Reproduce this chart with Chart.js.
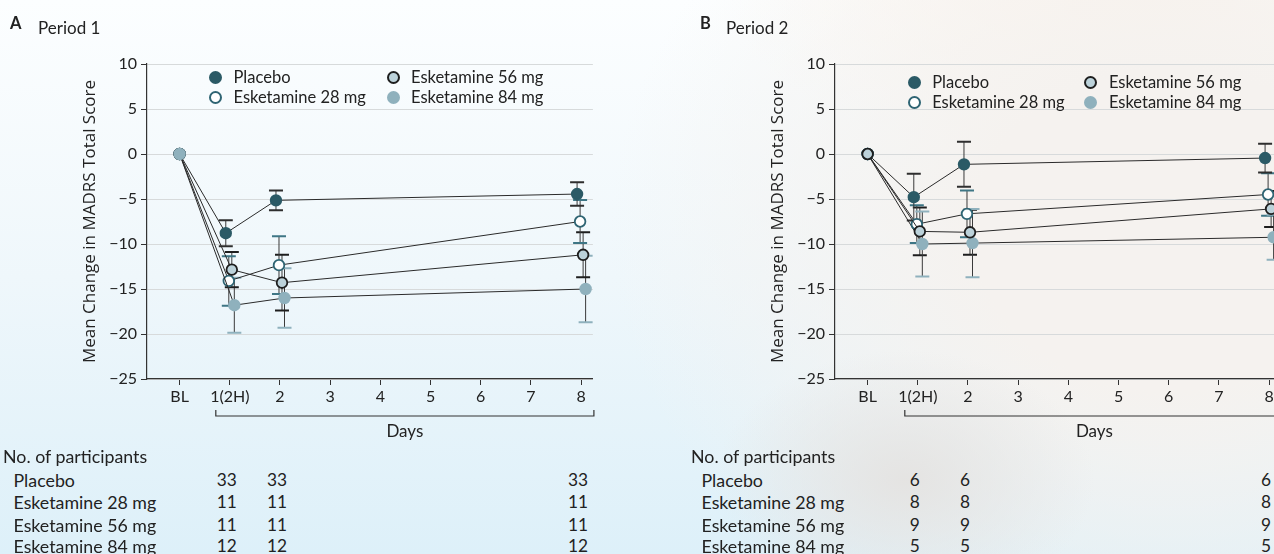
<!DOCTYPE html>
<html lang="en">
<head>
<meta charset="UTF-8">
<title>MADRS change by period</title>
<script src="https://cdn.jsdelivr.net/npm/chart.js@4.4.1/dist/chart.umd.min.js"></script>
<style>
    html, body {
        margin: 0;
        padding: 0;
        width: 1274px;
        height: 554px;
        overflow: hidden;
    }

    /* soft photo-like backdrop: blue on the left, warm grey on the right */
    body {
        position: relative;
        font-family: Lato, sans-serif;
        color: #222;
        background:
            radial-gradient(ellipse 190px 130px at 905px 480px, rgba(228,226,224,0.9), rgba(228,226,224,0) 100%),
            radial-gradient(ellipse 560px 460px at 1170px 230px, rgba(245,242,239,1) 35%, rgba(245,242,239,0) 100%),
            radial-gradient(ellipse 420px 170px at 1150px 0px, rgba(253,244,235,1), rgba(253,244,235,0)),
            linear-gradient(180deg, #fcfeff 0%, #eff7fb 50%, #ddf0f9 100%);
    }

    .panel {
        position: absolute;
        top: 0;
        width: 600px;
        height: 554px;
    }

    .panel canvas {
        position: absolute;
        left: 0;
        top: 0;
    }

    .letter {
        position: absolute;
        font-weight: 700;
        font-size: 16.5px;
        line-height: 20px;
    }

    .period {
        position: absolute;
        font-size: 17px;
        line-height: 20px;
    }

    .legend-item {
        position: absolute;
        font-size: 16.5px;
        line-height: 20px;
        white-space: nowrap;
    }

    .dot {
        position: absolute;
        width: 13px;
        height: 13px;
        border-radius: 50%;
        box-sizing: border-box;
    }

    .tbl {
        position: absolute;
        font-size: 17.8px;
        line-height: 22px;
        white-space: nowrap;
    }

    .num {
        position: absolute;
        width: 30px;
        text-align: center;
        font-size: 17.3px;
        line-height: 22px;
    }
</style>
</head>
<body>

<div class="panel" id="panelA" style="left:0px;">
    <canvas id="chartA" width="600" height="450"></canvas>
    <div class="letter" style="left:10px; top:13px;">A</div>
    <div class="period" style="left:38px; top:18px;">Period 1</div>
</div>

<div class="panel" id="panelB" style="left:688px;">
    <canvas id="chartB" width="600" height="450"></canvas>
    <div class="letter" style="left:12px; top:13px;">B</div>
    <div class="period" style="left:38px; top:18px;">Period 2</div>
</div>

<script>
// x axis categories (position = index)
const xLabels = ['BL', '1(2H)', '2', '3', '4', '5', '6', '7', '8'];
const visitDays = [0, 1, 2, 8];
const countDays = [1, 2, 8];

const seriesNames = ['Placebo', 'Esketamine 28 mg', 'Esketamine 56 mg', 'Esketamine 84 mg'];

// Period 1 - mean change and error
const p1Placebo = [0, -8.8, -5.15, -4.45];
const p1Eske28 = [0, -14.1, -12.35, -7.5];
const p1Eske56 = [0, -12.85, -14.3, -11.2];
const p1Eske84 = [0, -16.8, -16.0, -15.0];
const p1PlaceboErr = [0, 1.45, 1.1, 1.3];
const p1Eske28Err = [0, 2.75, 3.2, 2.4];
const p1Eske56Err = [0, 1.95, 3.1, 2.5];
const p1Eske84Err = [0, 3.05, 3.3, 3.7];

// Period 2 - mean change and error
const p2Placebo = [0, -4.8, -1.15, -0.45];
const p2Eske28 = [0, -7.8, -6.65, -4.5];
const p2Eske56 = [0, -8.6, -8.7, -6.1];
const p2Eske84 = [0, -10.0, -9.9, -9.25];
const p2PlaceboErr = [0, 2.6, 2.5, 1.6];
const p2Eske28Err = [0, 2.1, 2.6, 2.35];
const p2Eske56Err = [0, 2.65, 2.5, 2.0];
const p2Eske84Err = [0, 3.6, 3.8, 2.5];

// No. of participants at 1(2H), 2, 8
const p1Counts = [[33, 33, 33], [11, 11, 11], [11, 11, 11], [12, 12, 12]];
const p2Counts = [[6, 6, 6], [8, 8, 8], [9, 9, 9], [5, 5, 5]];

// marker styles per series
const styles = [
    { fill: '#2b5a66', border: '#2b5a66', cap: '#2e2e2e', jitter: -0.08 },
    { fill: '#ffffff', border: '#2e6473', cap: '#3e7685', jitter: -0.02 },
    { fill: '#bcd2da', border: '#1e1e1e', cap: '#1e1e1e', jitter: 0.04 },
    { fill: '#8fb1bd', border: '#8fb1bd', cap: '#8fb1bd', jitter: 0.09 }
];

const MINUS = '\u2212';

// error bars drawn under the markers
const errorBarPlugin = {
    id: 'errorBars',
    beforeDatasetsDraw(chart) {
        const ctx = chart.ctx;
        const y = chart.scales.y;
        chart.data.datasets.forEach((ds, di) => {
            const meta = chart.getDatasetMeta(di);
            meta.data.forEach((pt, i) => {
                const e = ds.errors[i];
                if (!e) return;
                const v = ds.data[i].y;
                const top = y.getPixelForValue(v + e);
                const bot = y.getPixelForValue(v - e);
                ctx.save();
                ctx.strokeStyle = '#3a3a3a';
                ctx.lineWidth = 1;
                ctx.beginPath();
                ctx.moveTo(pt.x, top);
                ctx.lineTo(pt.x, bot);
                ctx.stroke();
                ctx.strokeStyle = ds.capColor;
                ctx.lineWidth = 2;
                ctx.beginPath();
                ctx.moveTo(pt.x - 7, top);
                ctx.lineTo(pt.x + 7, top);
                ctx.moveTo(pt.x - 7, bot);
                ctx.lineTo(pt.x + 7, bot);
                ctx.stroke();
                ctx.restore();
            });
        });
    }
};

// "Days" bracket under the x axis
const daysPlugin = {
    id: 'daysBracket',
    afterDraw(chart, args, opts) {
        const ctx = chart.ctx;
        const a = chart.chartArea;
        const left = chart.scales.x.getPixelForValue(1) - opts.leftGap;
        const right = a.right + opts.rightGap;
        const yb = a.bottom + 37;
        ctx.save();
        ctx.strokeStyle = '#333';
        ctx.lineWidth = 1.2;
        ctx.beginPath();
        ctx.moveTo(left, yb - 6);
        ctx.lineTo(left, yb);
        ctx.lineTo(right, yb);
        ctx.lineTo(right, yb - 6);
        ctx.stroke();
        ctx.fillStyle = '#222';
        ctx.font = '17px Lato';
        ctx.textAlign = 'center';
        ctx.textBaseline = 'middle';
        ctx.fillText('Days', (left + right) / 2, a.bottom + 53);
        ctx.restore();
    }
};

// Chart.js paints dataset 0 on top, so "order" lists top-most first
function makeDatasets(values, errors, order) {
    return order.map(s => ({
        label: seriesNames[s],
        data: values[s].map((v, i) => ({ x: visitDays[i] + (i === 0 ? 0 : styles[s].jitter), y: v })),
        errors: errors[s],
        capColor: styles[s].cap,
        borderColor: '#2a2a2a',
        borderWidth: 1,
        pointRadius: 5.3,
        pointBorderWidth: 1.8,
        pointBackgroundColor: styles[s].fill,
        pointBorderColor: styles[s].border,
        tension: 0,
        fill: false
    }));
}

function makeChart(canvasId, datasets, gaps) {
    return new Chart(document.getElementById(canvasId), {
        type: 'line',
        data: { datasets: datasets },
        options: {
            responsive: false,
            animation: false,
            devicePixelRatio: 1,
            layout: { padding: { left: 80, top: 64, right: 7, bottom: 40 } },
            plugins: {
                legend: { display: false },
                tooltip: { enabled: false },
                daysBracket: gaps
            },
            scales: {
                x: {
                    type: 'linear',
                    min: -0.65,
                    max: 8.235,
                    afterBuildTicks: scale => {
                        scale.ticks = xLabels.map((_, i) => ({ value: i }));
                    },
                    afterFit: scale => { scale.height = 31; },
                    ticks: {
                        callback: v => xLabels[v],
                        autoSkip: false,
                        maxRotation: 0,
                        padding: 2,
                        color: '#222',
                        font: { family: 'Lato', size: 16 }
                    },
                    grid: { drawOnChartArea: false, drawTicks: true, tickLength: 6, tickColor: '#333' },
                    border: { color: '#333', width: 1.2 }
                },
                y: {
                    min: -25,
                    max: 10,
                    afterFit: scale => { scale.width = 67; },
                    ticks: {
                        stepSize: 5,
                        padding: 4,
                        color: '#222',
                        font: { family: 'Lato', size: 16 },
                        callback: v => String(v).replace('-', MINUS)
                    },
                    grid: { color: '#d7dadb', lineWidth: 1, tickLength: 6, tickColor: '#333' },
                    border: { color: '#333', width: 1.2 },
                    title: {
                        display: true,
                        text: 'Mean Change in MADRS Total Score',
                        color: '#222',
                        font: { family: 'Open Sans', size: 17 },
                        padding: { top: 0, bottom: 4 }
                    }
                }
            }
        },
        plugins: [errorBarPlugin, daysPlugin]
    });
}

function addLegend(panel, x0, y0, colGap) {
    seriesNames.forEach((name, s) => {
        const col = s === 0 || s === 1 ? 0 : 1;
        const row = s === 0 || s === 2 ? 0 : 1;
        const cx = x0 + col * colGap;
        const cy = y0 + row * 20;
        const item = document.createElement('div');
        item.className = 'legend-item';
        item.style.left = (cx + 18) + 'px';
        item.style.top = (cy - 10.5) + 'px';
        item.textContent = name;
        const dot = document.createElement('div');
        dot.className = 'dot';
        dot.style.left = (cx - 6.5) + 'px';
        dot.style.top = (cy - 6.5) + 'px';
        dot.style.background = styles[s].fill;
        dot.style.border = '2px solid ' + styles[s].border;
        panel.appendChild(dot);
        panel.appendChild(item);
    });
}

function addTable(panel, chart, counts) {
    const xs = chart.scales.x;
    const head = document.createElement('div');
    head.className = 'tbl';
    head.style.left = '3px';
    head.style.top = (456.7 - 11.5) + 'px';
    head.textContent = 'No. of participants';
    panel.appendChild(head);
    const rowY = [480, 502.3, 525, 546.7];
    seriesNames.forEach((name, s) => {
        const lab = document.createElement('div');
        lab.className = 'tbl';
        lab.style.left = '13.5px';
        lab.style.top = (rowY[s] - 11.5) + 'px';
        lab.textContent = name;
        panel.appendChild(lab);
        countDays.forEach((d, k) => {
            const n = document.createElement('div');
            n.className = 'num';
            n.style.left = (xs.getPixelForValue(d) - 3 - 15) + 'px';
            n.style.top = (rowY[s] - 11.5) + 'px';
            n.textContent = counts[s][k];
            panel.appendChild(n);
        });
    });
}

const chartA = makeChart('chartA',
    makeDatasets([p1Placebo, p1Eske28, p1Eske56, p1Eske84],
                 [p1PlaceboErr, p1Eske28Err, p1Eske56Err, p1Eske84Err], [3, 2, 1, 0]),
    { leftGap: 14, rightGap: 1 });

const chartB = makeChart('chartB',
    makeDatasets([p2Placebo, p2Eske28, p2Eske56, p2Eske84],
                 [p2PlaceboErr, p2Eske28Err, p2Eske56Err, p2Eske84Err], [2, 1, 3, 0]),
    { leftGap: 13, rightGap: 3 });

addLegend(document.getElementById('panelA'), 215.5, 77.3, 177.5);
addLegend(document.getElementById('panelB'), 226.2, 82.3, 176.7);
addTable(document.getElementById('panelA'), chartA, p1Counts);
addTable(document.getElementById('panelB'), chartB, p2Counts);
</script>
</body>
</html>
